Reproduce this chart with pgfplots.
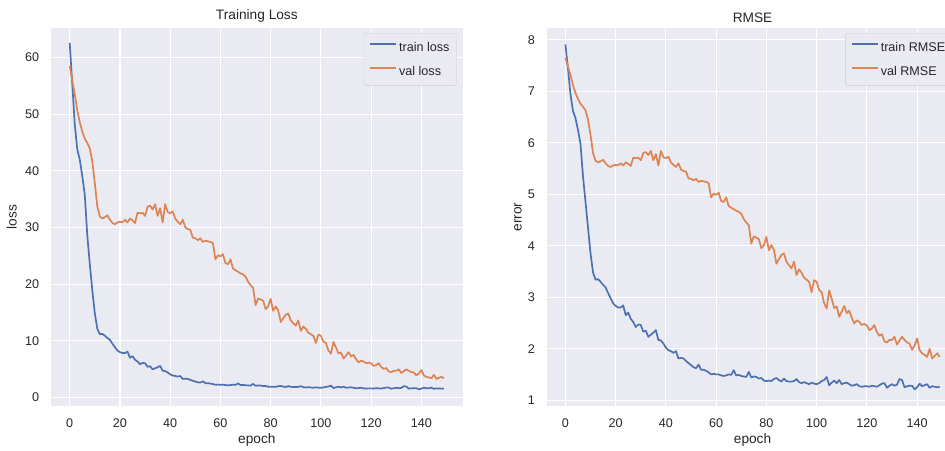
\documentclass[border=0pt]{standalone}
\usepackage{fontspec}
\setmainfont{Liberation Sans}
\usepackage{pgfplots}
\usepackage{pgfplotstable}
\pgfplotsset{compat=1.18}

\definecolor{sbbg}{HTML}{EAEAF2}
\definecolor{sbblue}{HTML}{4C72B0}
\definecolor{sborange}{HTML}{DD8452}
\definecolor{sbtext}{HTML}{262626}
\definecolor{sbedge}{HTML}{CCCCCC}

% epoch, train / val value
\pgfplotstableread{
ep trn val
0 62.57 58.52
1 55.50 55.95
2 48.30 53.58
3 43.82 50.69
4 41.99 48.58
5 39.06 46.92
6 35.76 45.70
7 28.62 44.89
8 23.52 43.96
9 18.92 41.60
10 14.82 37.82
11 12.11 33.64
12 11.16 31.92
13 11.22 31.58
14 10.89 31.81
15 10.50 32.15
16 10.18 31.36
17 9.49 30.80
18 8.88 30.58
19 8.29 30.91
20 8.01 31.02
21 7.84 30.91
22 7.84 31.36
23 8.07 30.91
24 7.02 31.58
25 7.29 31.25
26 6.66 30.80
27 6.35 32.60
28 5.86 32.49
29 6.10 32.60
30 6.05 32.04
31 5.43 33.64
32 5.52 33.87
33 4.97 33.18
34 5.15 34.11
35 5.34 32.04
36 5.57 33.41
37 4.71 30.91
38 4.67 34.11
39 4.41 32.72
40 4.08 32.49
41 3.88 32.83
42 3.80 31.58
43 3.69 31.02
44 3.80 30.58
45 3.28 31.36
46 3.31 30.03
47 3.28 29.70
48 3.10 29.59
49 2.96 28.20
50 2.82 28.09
51 2.69 27.77
52 2.62 28.09
53 2.86 27.46
54 2.53 27.67
55 2.53 27.56
56 2.46 27.46
57 2.37 27.25
58 2.25 24.40
59 2.28 25.10
60 2.25 24.90
61 2.25 25.30
62 2.19 23.72
63 2.16 23.52
64 2.19 24.40
65 2.25 22.75
66 2.22 22.47
67 2.50 22.18
68 2.19 21.90
69 2.22 21.72
70 2.16 21.34
71 2.13 20.43
72 2.10 19.80
73 2.40 19.36
74 2.07 16.32
75 2.13 17.47
76 2.10 17.31
77 2.02 17.06
78 2.04 15.60
79 1.90 16.08
80 1.88 17.39
81 1.90 15.29
82 1.88 16.08
83 1.99 15.37
84 2.04 13.32
85 1.93 13.99
86 1.85 14.59
87 2.02 14.82
88 1.88 13.62
89 1.85 13.10
90 1.85 12.67
91 1.88 13.62
92 1.99 11.76
93 1.82 12.53
94 1.77 12.11
95 1.82 11.42
96 1.77 11.16
97 1.72 10.89
98 1.80 9.61
99 1.74 11.09
100 1.72 10.89
101 1.77 9.86
102 1.88 9.61
103 1.93 8.29
104 2.10 7.73
105 1.66 9.80
106 1.80 8.82
107 1.90 7.78
108 1.77 7.95
109 1.93 6.86
110 1.72 7.40
111 1.77 8.01
112 1.80 7.24
113 1.72 7.51
114 1.64 6.76
115 1.66 6.20
116 1.72 6.50
117 1.61 6.35
118 1.59 6.05
119 1.61 6.15
120 1.61 6.00
121 1.59 5.57
122 1.64 5.71
123 1.61 6.05
124 1.59 5.38
125 1.66 5.06
126 1.74 5.20
127 1.77 4.58
128 1.54 4.49
129 1.64 4.71
130 1.72 4.71
131 1.64 4.97
132 1.69 4.33
133 1.99 4.67
134 1.93 4.97
135 1.56 4.71
136 1.61 4.49
137 1.64 4.41
138 1.64 3.92
139 1.46 4.24
140 1.56 4.84
141 1.74 3.88
142 1.61 3.65
143 1.66 3.53
144 1.72 3.39
145 1.54 4.00
146 1.61 3.28
147 1.59 3.46
148 1.56 3.65
149 1.59 3.39
}\losstable

\pgfplotstableread{
ep trn val
0 7.91 7.65
1 7.45 7.48
2 6.95 7.32
3 6.62 7.12
4 6.48 6.97
5 6.25 6.85
6 5.98 6.76
7 5.35 6.70
8 4.85 6.63
9 4.35 6.45
10 3.85 6.15
11 3.48 5.80
12 3.34 5.65
13 3.35 5.62
14 3.30 5.64
15 3.24 5.67
16 3.19 5.60
17 3.08 5.55
18 2.98 5.53
19 2.88 5.56
20 2.83 5.57
21 2.80 5.56
22 2.80 5.60
23 2.84 5.56
24 2.65 5.62
25 2.70 5.59
26 2.58 5.55
27 2.52 5.71
28 2.42 5.70
29 2.47 5.71
30 2.46 5.66
31 2.33 5.80
32 2.35 5.82
33 2.23 5.76
34 2.27 5.84
35 2.31 5.66
36 2.36 5.78
37 2.17 5.56
38 2.16 5.84
39 2.10 5.72
40 2.02 5.70
41 1.97 5.73
42 1.95 5.62
43 1.92 5.57
44 1.95 5.53
45 1.81 5.60
46 1.82 5.48
47 1.81 5.45
48 1.76 5.44
49 1.72 5.31
50 1.68 5.30
51 1.64 5.27
52 1.62 5.30
53 1.69 5.24
54 1.59 5.26
55 1.59 5.25
56 1.57 5.24
57 1.54 5.22
58 1.50 4.94
59 1.51 5.01
60 1.50 4.99
61 1.50 5.03
62 1.48 4.87
63 1.47 4.85
64 1.48 4.94
65 1.50 4.77
66 1.49 4.74
67 1.58 4.71
68 1.48 4.68
69 1.49 4.66
70 1.47 4.62
71 1.46 4.52
72 1.45 4.45
73 1.55 4.40
74 1.44 4.04
75 1.46 4.18
76 1.45 4.16
77 1.42 4.13
78 1.43 3.95
79 1.38 4.01
80 1.37 4.17
81 1.38 3.91
82 1.37 4.01
83 1.41 3.92
84 1.43 3.65
85 1.39 3.74
86 1.36 3.82
87 1.42 3.85
88 1.37 3.69
89 1.36 3.62
90 1.36 3.56
91 1.37 3.69
92 1.41 3.43
93 1.35 3.54
94 1.33 3.48
95 1.35 3.38
96 1.33 3.34
97 1.31 3.30
98 1.34 3.10
99 1.32 3.33
100 1.31 3.30
101 1.33 3.14
102 1.37 3.10
103 1.39 2.88
104 1.45 2.78
105 1.29 3.13
106 1.34 2.97
107 1.38 2.79
108 1.33 2.82
109 1.39 2.62
110 1.31 2.72
111 1.33 2.83
112 1.34 2.69
113 1.31 2.74
114 1.28 2.60
115 1.29 2.49
116 1.31 2.55
117 1.27 2.52
118 1.26 2.46
119 1.27 2.48
120 1.27 2.45
121 1.26 2.36
122 1.28 2.39
123 1.27 2.46
124 1.26 2.32
125 1.29 2.25
126 1.32 2.28
127 1.33 2.14
128 1.24 2.12
129 1.28 2.17
130 1.31 2.17
131 1.28 2.23
132 1.30 2.08
133 1.41 2.16
134 1.39 2.23
135 1.25 2.17
136 1.27 2.12
137 1.28 2.10
138 1.28 1.98
139 1.21 2.06
140 1.25 2.20
141 1.32 1.97
142 1.27 1.91
143 1.29 1.88
144 1.31 1.84
145 1.24 2.00
146 1.27 1.81
147 1.26 1.86
148 1.25 1.91
149 1.26 1.84
}\rmsetable

\pgfplotsset{
  sbstyle/.style={
    scale only axis, width=411.7pt, height=378pt,
    anchor=south west,
    xmin=-7.45, xmax=156.45,
    xtick={0,20,...,140},
    axis background/.style={fill=sbbg},
    axis line style={draw=none},
    major tick length=0pt,
    grid=major,
    major grid style={white, line width=1.1pt},
    tick label style={font=\fontsize{12.6}{14}\selectfont, text=sbtext},
    /pgf/number format/assume math mode=true,
    xticklabel style={anchor=north, inner sep=0pt, yshift=-13pt},
    yticklabel style={anchor=east, inner sep=0pt, xshift=-11.7pt},
    every axis title/.style={font=\fontsize{13.7}{16}\selectfont, text=sbtext,
      at={(axis description cs:0.5,1)}, anchor=south, inner sep=0pt, yshift=5.5pt},
    every axis x label/.style={at={(axis description cs:0.5,-0.0979)}, anchor=base,
      font=\fontsize{13.7}{16}\selectfont, text=sbtext},
    xlabel=epoch,
    legend cell align=left,
    legend style={at={(axis description cs:1,1)}, anchor=north east,
      xshift=-6pt, yshift=-5.3pt, fill=sbbg, draw=sbedge, rounded corners=2pt,
      inner xsep=5pt, inner ysep=6.8pt,
      font=\fontsize{12.6}{14}\selectfont, text=sbtext, row sep=9pt},
    legend image code/.code={\draw[#1] (0pt,3.5pt) -- (26.4pt,3.5pt);},
    every axis plot/.append style={line width=1.7pt, line join=round},
  }
}

\begin{document}
\begin{tikzpicture}
\useasboundingbox (0,0) rectangle (945pt,450pt);

\begin{axis}[sbstyle, at={(51pt,44pt)},
    ymin=-1.5, ymax=65.2, ytick={0,10,...,60},
    title={Training Loss}, ylabel={loss},
    every axis y label/.style={at={(axis description cs:-0.0833,0.5)}, rotate=90,
      anchor=base, font=\fontsize{13.7}{16}\selectfont, text=sbtext}]
\addplot[sbblue] table[x=ep, y=trn] {\losstable};
\addlegendentry{train loss}
\addplot[sborange] table[x=ep, y=val] {\losstable};
\addlegendentry{val loss}
\end{axis}

\begin{axis}[sbstyle, at={(546.7pt,44pt)},
    ymin=0.886, ymax=8.23, ytick={1,2,...,8},
    title={RMSE}, ylabel={error},
    every axis y label/.style={at={(axis description cs:-0.0607,0.5)}, rotate=90,
      anchor=base, font=\fontsize{13.7}{16}\selectfont, text=sbtext}]
\addplot[sbblue] table[x=ep, y=trn] {\rmsetable};
\addlegendentry{train RMSE}
\addplot[sborange] table[x=ep, y=val] {\rmsetable};
\addlegendentry{val RMSE}
\end{axis}
\end{tikzpicture}
\end{document}
